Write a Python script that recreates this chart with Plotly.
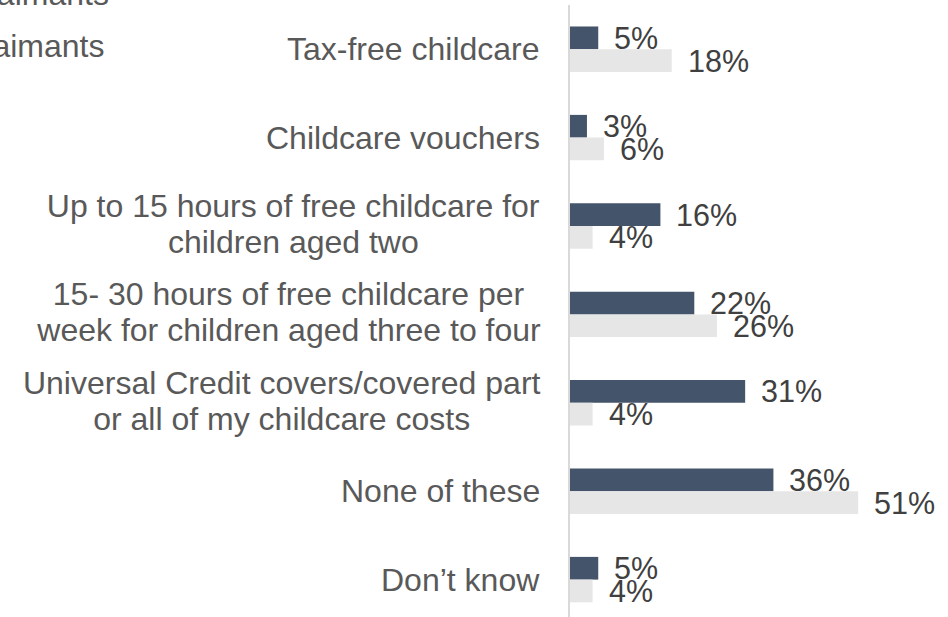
import plotly.graph_objects as go

# Childcare support used, by claimant group (per cent)
categories = [
    "Tax-free childcare",
    "Childcare vouchers",
    "Up to 15 hours of free childcare for<br>children aged two",
    "15- 30 hours of free childcare per<br>week for children aged three to four",
    "Universal Credit covers/covered part<br>or all of my childcare costs",
    "None of these",
    "Don\u2019t know",
]
series_names = ["Universal Credit claimants", "Legacy benefit claimants"]
uc_values = [5, 3, 16, 22, 31, 36, 5]
legacy_values = [18, 6, 4, 26, 4, 51, 4]

DARK = "#44546A"
LIGHT = "#E7E6E6"
LABEL_GREY = "#595959"
VALUE_GREY = "#404040"
FONT = "Liberation Sans, Arial, sans-serif"
LABEL_FS = 32
VALUE_FS = 30.5

# Advance widths (1/1000 em) of Arial / Liberation Sans, used to size the
# centred boxes of the two-line category labels.
_W = {" ": 278, "-": 333, "/": 278, "\u2019": 222, "'": 191}
_W.update({d: 556 for d in "0123456789"})
_W.update(dict(a=556, b=556, c=500, d=556, e=556, f=278, g=556, h=556, i=222,
               j=222, k=500, l=222, m=833, n=556, o=556, p=556, q=556, r=333,
               s=500, t=278, u=556, v=500, w=722, x=500, y=500, z=500))
_W.update(dict(A=667, B=667, C=722, D=722, E=667, F=611, G=778, H=722, I=278,
               J=500, K=667, L=556, M=833, N=722, O=778, P=667, Q=778, R=722,
               S=667, T=611, U=722, V=667, W=944, X=667, Y=667, Z=611))


def text_width(s, size):
    return sum(_W.get(ch, 556) for ch in s) * size / 1000.0


BARGAP = 0.486
positions = list(range(len(categories)))
half_bar = (1 - BARGAP) / 4  # centre of each bar within its group

fig = go.Figure()
fig.add_trace(go.Bar(y=positions, x=uc_values, orientation="h", name=series_names[0],
                     marker=dict(color=DARK, line=dict(width=0))))
fig.add_trace(go.Bar(y=positions, x=legacy_values, orientation="h", name=series_names[1],
                     marker=dict(color=LIGHT, line=dict(width=0))))

annotations = []
label_font = dict(family=FONT, size=LABEL_FS, color=LABEL_GREY)
LABEL_SHIFT = -28
LINE_SHIFTS = [20, -16]  # tighter line spacing than the default 1.3 em

# category labels: right-aligned block, lines centred within it
for p, cat in zip(positions, categories):
    lines = cat.split("<br>")
    if len(lines) == 1:
        annotations.append(dict(
            x=0, xref="paper", y=p, yref="y", text=cat, showarrow=False,
            xanchor="right", yanchor="middle", xshift=LABEL_SHIFT, font=label_font))
        continue
    pad = 8
    box_w = max(text_width(ln, LABEL_FS) for ln in lines) + pad
    for ln, ys in zip(lines, LINE_SHIFTS):
        annotations.append(dict(
            x=0, xref="paper", y=p, yref="y", text=ln, showarrow=False,
            xanchor="right", yanchor="middle", align="center", width=box_w,
            xshift=LABEL_SHIFT + pad / 2, yshift=ys, font=label_font))

# value labels next to each bar end
value_font = dict(family=FONT, size=VALUE_FS, color=VALUE_GREY)
for p, a, b in zip(positions, uc_values, legacy_values):
    annotations.append(dict(
        x=a, y=p - half_bar, xref="x", yref="y", text=f"{a}%", showarrow=False,
        xanchor="left", yanchor="middle", xshift=14, font=value_font))
    annotations.append(dict(
        x=b, y=p + half_bar, xref="x", yref="y", text=f"{b}%", showarrow=False,
        xanchor="left", yanchor="middle", xshift=14, font=value_font))

# legend entries at the top left
annotations.append(dict(
    x=-1.215, y=1.018, xref="paper", yref="paper", showarrow=False,
    text=f"<span style='color:{DARK}'>\u25A0</span> {series_names[0]}",
    xanchor="right", yanchor="middle", font=label_font))
annotations.append(dict(
    x=-1.228, y=0.933, xref="paper", yref="paper", showarrow=False,
    text=f"<span style='color:{LIGHT}'>\u25A0</span> {series_names[1]}",
    xanchor="right", yanchor="middle", font=label_font))

fig.update_layout(
    width=948, height=617,
    margin=dict(l=570, r=0, t=5, b=0, pad=0, autoexpand=False),
    paper_bgcolor="white", plot_bgcolor="white",
    barmode="group", bargap=BARGAP, bargroupgap=0,
    showlegend=False,
    annotations=annotations,
    font=dict(family=FONT, color=LABEL_GREY),
)
fig.update_xaxes(range=[0, 66.9], showgrid=False, zeroline=False,
                 showticklabels=False, ticks="", showline=False)
fig.update_yaxes(range=[6.423, -0.5], showgrid=False, zeroline=False,
                 showticklabels=False, ticks="", showline=True,
                 linecolor="#D9D9D9", linewidth=2)

fig.write_html("out.html")
